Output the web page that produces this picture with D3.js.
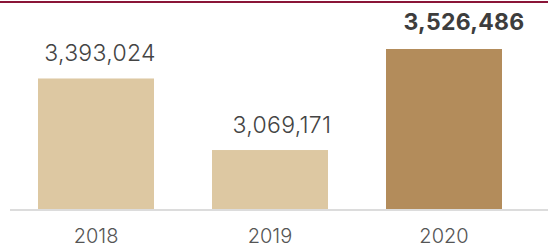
<!DOCTYPE html>
<html>
<head>
<meta charset="utf-8">
<script src="https://cdn.jsdelivr.net/npm/d3@7"></script>
<style>
  body { margin: 0; background: #fff; }
  svg { display: block; }
  text { font-family: Inter, "Open Sans", sans-serif; }
</style>
</head>
<body>
<svg id="chart"></svg>
<script>
const width = 548;
const height = 248;

const years = ["2018", "2019", "2020"];
const values = [3393024, 3069171, 3526486];
const highlight = ["2020"];

const svg = d3.select("#chart")
  .attr("width", width)
  .attr("height", height);

// bars: 116px wide on a 174px step
const x = d3.scaleBand()
  .domain(years)
  .range([38, 502])
  .paddingInner(58 / 174)
  .paddingOuter(0);

// value labels sit on a slightly wider spacing than the bars
const xLabel = d3.scalePoint()
  .domain(years)
  .range([100, 464]);

const y = d3.scaleLinear()
  .domain([2800000, 3526486])
  .range([209.5, 49]);

// top rule
svg.append("rect")
  .attr("x", 0).attr("y", 1)
  .attr("width", width).attr("height", 2)
  .attr("fill", "#8a1538");

const data = years.map((yr, i) => ({ year: yr, value: values[i] }));

svg.append("g")
  .selectAll("rect")
  .data(data)
  .enter().append("rect")
  .attr("x", d => x(d.year))
  .attr("width", x.bandwidth())
  .attr("y", d => y(d.value))
  .attr("height", d => y.range()[0] - y(d.value))
  .attr("fill", d => highlight.includes(d.year) ? "#b38c5b" : "#ddc8a2");

// baseline
svg.append("line")
  .attr("x1", 10).attr("x2", width)
  .attr("y1", 210).attr("y2", 210)
  .attr("stroke", "#dcdcdc")
  .attr("stroke-width", 2);

// value labels
svg.append("g")
  .selectAll("text")
  .data(data)
  .enter().append("text")
  .attr("x", d => xLabel(d.year))
  .attr("y", d => y(d.value) - (highlight.includes(d.year) ? 19 : 17))
  .attr("text-anchor", "middle")
  .attr("font-size", 23)
  .attr("letter-spacing", 0.3)
  .attr("font-weight", d => highlight.includes(d.year) ? 700 : 300)
  .attr("fill", d => highlight.includes(d.year) ? "#3d3d3d" : "#444")
  .text(d => d3.format(",")(d.value));

// year labels
svg.append("g")
  .selectAll("text")
  .data(years)
  .enter().append("text")
  .attr("x", d => x(d) + x.bandwidth() / 2)
  .attr("y", 243)
  .attr("text-anchor", "middle")
  .attr("font-size", 20)
  .attr("font-weight", 300)
  .attr("fill", "#555")
  .text(d => d);
</script>
</body>
</html>
